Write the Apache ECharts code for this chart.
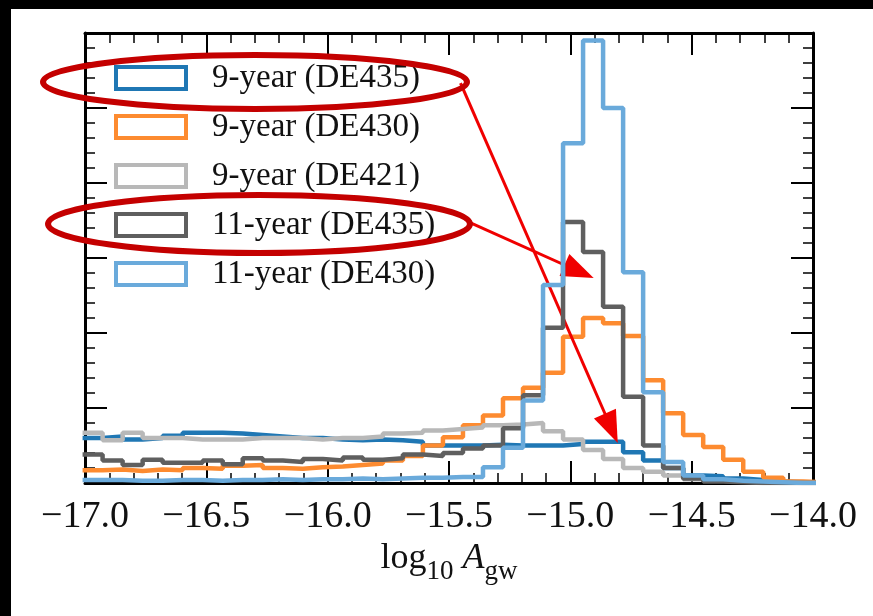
<!DOCTYPE html>
<html>
<head>
<meta charset="utf-8">
<script src="https://cdn.jsdelivr.net/npm/echarts/dist/echarts.min.js"></script>
<style>
html, body { margin: 0; padding: 0; background: #fff; }
#chart { width: 873px; height: 616px; }
</style>
</head>
<body>
<div id="chart"></div>
<script>
// bin edges of the histograms (log10 A_gw)
let binEdges = [-17.010, -16.9275, -16.845, -16.7625, -16.680, -16.5975, -16.515, -16.4325, -16.350, -16.2675,
    -16.185, -16.1025, -16.020, -15.9375, -15.855, -15.7725, -15.690, -15.6075, -15.525, -15.4425,
    -15.360, -15.2775, -15.195, -15.1125, -15.030, -14.9475, -14.865, -14.7825, -14.700, -14.6175,
    -14.535, -14.4525, -14.370, -14.2875, -14.205, -14.1225, -14.040, -13.9575];

let seriesNames = ['9-year (DE435)', '9-year (DE430)', '9-year (DE421)', '11-year (DE435)', '11-year (DE430)'];
let seriesColors = ['#1f77b4', '#fd8b30', '#b8b8b8', '#5f5f5f', '#6aaadb'];

let nine435 = [0.6, 0.62, 0.58, 0.6, 0.63, 0.67, 0.67, 0.66, 0.64, 0.62,
    0.6, 0.6, 0.58, 0.57, 0.58, 0.57, 0.55, 0.5, 0.5, 0.5,
    0.51, 0.5, 0.5, 0.5, 0.52, 0.55, 0.55, 0.41, 0.3, 0.2,
    0.1, 0.09, 0.06, 0.04, 0.02, 0.01, 0.0];
let nine430 = [0.17, 0.18, 0.16, 0.18, 0.17, 0.2, 0.19, 0.23, 0.24, 0.2,
    0.19, 0.21, 0.22, 0.24, 0.26, 0.3, 0.36, 0.5, 0.61, 0.77,
    0.9, 1.13, 1.27, 1.47, 1.95, 2.2, 2.13, 1.96, 1.37, 0.93,
    0.64, 0.48, 0.31, 0.15, 0.07, 0.02, 0.01];
let nine421 = [0.67, 0.57, 0.67, 0.6, 0.6, 0.58, 0.58, 0.58, 0.6, 0.6,
    0.6, 0.58, 0.6, 0.6, 0.62, 0.66, 0.67, 0.7, 0.72, 0.74,
    0.77, 0.78, 0.8, 0.69, 0.58, 0.44, 0.32, 0.2, 0.15, 0.1,
    0.05, 0.03, 0.02, 0.01, 0, 0, 0];
let eleven435 = [0.38, 0.3, 0.24, 0.31, 0.27, 0.27, 0.3, 0.25, 0.33, 0.3,
    0.28, 0.32, 0.3, 0.34, 0.31, 0.33, 0.38, 0.36, 0.4, 0.46,
    0.5, 0.73, 1.17, 2.07, 3.48, 3.08, 2.35, 1.15, 0.5, 0.2,
    0.06, 0.02, 0.01, 0, 0, 0, 0];
let eleven430 = [0.04, 0.04, 0.03, 0.03, 0.04, 0.04, 0.03, 0.04, 0.04, 0.05,
    0.04, 0.05, 0.05, 0.06, 0.05, 0.06, 0.07, 0.07, 0.08, 0.08,
    0.21, 0.47, 1.1, 2.64, 4.53, 5.9, 5.0, 2.81, 1.21, 0.28,
    0.1, 0.05, 0.03, 0.02, 0.01, 0, 0];

let histValues = [nine435, nine430, nine421, eleven435, eleven430];

// red annotation arrows (data coords): start -> end
let arrowFrom = [[-15.4525, 5.333], [-15.411, 3.467]];
let arrowTo = [[-14.831, 0.73], [-14.964, 2.82]];

let serifFont = "'Liberation Serif', 'DejaVu Serif', serif";

function stepData(vals) {
    let pts = [];
    for (let i = 0; i < vals.length; i++) {
        pts.push([binEdges[i], vals[i]]);
    }
    pts.push([binEdges[vals.length], vals[vals.length - 1]]);
    return pts;
}

let myChart = echarts.init(document.getElementById('chart'));

let seriesData = [];
histValues.forEach(function (vals, i) {
    let s = {
        name: seriesNames[i],
        type: 'line',
        step: 'end',
        symbol: 'none',
        clip: true,
        lineStyle: { color: seriesColors[i], width: 4.5 },
        itemStyle: { color: seriesColors[i] },
        data: stepData(vals),
        z: 2 + i
    };
    seriesData.push(s);
});
seriesData[seriesData.length - 1].markLine = {
    silent: true,
    symbol: ['none', 'triangle'],
    symbolSize: [24, 32],
    label: { show: false },
    lineStyle: { color: '#f00000', width: 3, type: 'solid' },
    data: arrowFrom.map(function (p, i) {
        return [{ coord: p }, { coord: arrowTo[i] }];
    })
};

let tickCommon = {
    axisLine: { show: true, onZero: false, lineStyle: { color: '#000', width: 3 } },
    axisTick: { show: true, inside: true, length: 22, lineStyle: { color: '#000', width: 2 } },
    minorTick: { show: true, splitNumber: 5, length: 10, lineStyle: { color: '#000', width: 1.5 } },
    splitLine: { show: false },
    minorSplitLine: { show: false }
};

function fmtTick(v) {
    return (v < 0 ? '\u2212' : '') + Math.abs(v).toFixed(1);
}

let option = {
    animation: false,
    backgroundColor: '#fff',
    grid: { left: 85, right: 60, top: 33, bottom: 133, containLabel: false, outerBoundsMode: 'none' },
    legend: {
        orient: 'vertical',
        left: 114,
        top: 61,
        padding: 0,
        itemWidth: 70,
        itemHeight: 22,
        itemGap: 15,
        selectedMode: false,
        textStyle: {
            fontFamily: serifFont,
            fontSize: 33,
            lineHeight: 34,
            color: '#111',
            padding: [0, 0, 0, 21]
        },
        data: seriesNames.map(function (n, i) {
            return {
                name: n,
                icon: 'rect',
                itemStyle: { color: 'rgba(255,255,255,0)', borderColor: seriesColors[i], borderWidth: 4 }
            };
        })
    },
    xAxis: [
        Object.assign({
            type: 'value', min: -17, max: -14, interval: 0.5, position: 'bottom',
            axisLabel: {
                show: true, margin: 15, formatter: fmtTick,
                fontFamily: serifFont, fontSize: 38, color: '#111'
            },
            name: '{r|log}{s|10}{i| A}{s|gw}',
            nameLocation: 'middle',
            nameGap: 50,
            nameTextStyle: {
                rich: {
                    r: { fontFamily: serifFont, fontSize: 36, color: '#111', lineHeight: 50 },
                    i: { fontFamily: serifFont, fontSize: 36, fontStyle: 'italic', color: '#111', lineHeight: 50 },
                    s: { fontFamily: serifFont, fontSize: 27, color: '#111', lineHeight: 52, verticalAlign: 'bottom' }
                }
            }
        }, tickCommon),
        Object.assign({
            type: 'value', min: -17, max: -14, interval: 0.5, position: 'top',
            axisLabel: { show: false }
        }, tickCommon)
    ],
    yAxis: [
        Object.assign({
            type: 'value', min: 0, max: 6, interval: 1, position: 'left',
            axisLabel: { show: false }
        }, tickCommon),
        Object.assign({
            type: 'value', min: 0, max: 6, interval: 1, position: 'right',
            axisLabel: { show: false }
        }, tickCommon)
    ],
    graphic: [
        { type: 'rect', z: 100, shape: { x: 0, y: 0, width: 873, height: 9 }, style: { fill: '#000' } },
        { type: 'rect', z: 100, shape: { x: 0, y: 0, width: 11, height: 616 }, style: { fill: '#000' } },
        {
            type: 'ellipse', z: 100,
            shape: { cx: 255, cy: 82, rx: 212, ry: 27 },
            style: { fill: 'none', stroke: '#c40000', lineWidth: 6 }
        },
        {
            type: 'ellipse', z: 100,
            shape: { cx: 259, cy: 224, rx: 211, ry: 29 },
            style: { fill: 'none', stroke: '#c40000', lineWidth: 6 }
        }
    ],
    series: seriesData
};

myChart.setOption(option);
</script>
</body>
</html>
